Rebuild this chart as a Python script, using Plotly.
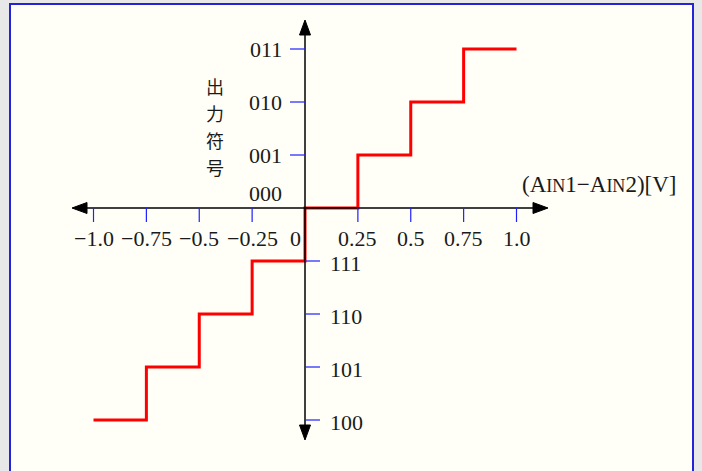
import plotly.graph_objects as go

# Input voltage breakpoints (V) and the output code held on each step
volts = [-1.0, -0.75, -0.5, -0.25, 0.0, 0.25, 0.5, 0.75, 1.0]
levels = [-4, -3, -2, -1, 0, 1, 2, 3, 3]

# Axis tick labels
x_tick_vals = [-1.0, -0.75, -0.5, -0.25, 0.25, 0.5, 0.75, 1.0]
x_tick_text = ["\u22121.0", "\u22120.75", "\u22120.5", "\u22120.25", "0.25", "0.5", "0.75", "1.0"]
code_levels = [3, 2, 1, 0, -1, -2, -3, -4]
code_text = ["011", "010", "001", "000", "111", "110", "101", "100"]
y_title_chars = ["出", "力", "符", "号"]

W, H = 702, 471
# pixel geometry of the drawing
ox, oy = 305, 208          # origin in pixels
px_per_volt = 211.5
px_per_level = 53.0

def vx(px):
    return (px - ox) / px_per_volt

def ly(py):
    return (oy - py) / px_per_level

xr = [vx(0), vx(W)]
yr = [ly(H), ly(0)]

SERIF = "Liberation Serif, DejaVu Serif, serif"
CJK = "Noto Sans CJK JP, sans-serif"
BLUE = "#1f1fff"
TXT = "#1a1a1a"
FS = 22

fig = go.Figure()

# step transfer curve
fig.add_trace(go.Scatter(
    x=volts, y=levels, mode="lines", line_shape="hv",
    line=dict(color="#ff0000", width=3), hoverinfo="skip", showlegend=False,
))

shapes = []
# panel background with blue frame
shapes.append(dict(type="rect", xref="paper", yref="paper",
                   x0=10 / W, x1=693 / W, y0=-0.05, y1=1 - 4 / H,
                   fillcolor="#fffff7", line=dict(color="#2323d8", width=2), layer="below"))

# horizontal and vertical axes with arrowheads
x_left, x_right = vx(72), vx(548)
y_top, y_bot = ly(20), ly(440)
shapes.append(dict(type="line", x0=x_left + 0.03, x1=x_right - 0.03, y0=0, y1=0,
                   line=dict(color="black", width=1.5)))
shapes.append(dict(type="line", x0=0, x1=0, y0=y_bot + 0.12, y1=y_top - 0.12,
                   line=dict(color="black", width=1.5)))
al_x, aw_y = 15 / px_per_volt, 5.5 / px_per_level
al_y, aw_x = 15 / px_per_level, 5.5 / px_per_volt
tri = lambda pts: "M " + " L ".join(f"{a},{b}" for a, b in pts) + " Z"
for pts in (
    [(x_right, 0), (x_right - al_x, aw_y), (x_right - al_x, -aw_y)],
    [(x_left, 0), (x_left + al_x, aw_y), (x_left + al_x, -aw_y)],
    [(0, y_top), (aw_x, y_top - al_y), (-aw_x, y_top - al_y)],
    [(0, y_bot), (aw_x, y_bot + al_y), (-aw_x, y_bot + al_y)],
):
    shapes.append(dict(type="path", path=tri(pts), fillcolor="black",
                       line=dict(color="black", width=1)))

# blue tick marks
tick_len_y = 14 / px_per_level
for v in x_tick_vals:
    shapes.append(dict(type="line", x0=v, x1=v, y0=0, y1=-tick_len_y,
                       line=dict(color=BLUE, width=1.2)))
tick_len_x = 15 / px_per_volt
for lv in code_levels:
    if lv == 0:
        continue
    x1 = -tick_len_x if lv > 0 else tick_len_x
    shapes.append(dict(type="line", x0=0, x1=x1, y0=lv, y1=lv,
                       line=dict(color=BLUE, width=1.2)))

annotations = []
for v, t in zip(x_tick_vals, x_tick_text):
    annotations.append(dict(x=v, y=ly(238), text=t, showarrow=False,
                            font=dict(family=SERIF, size=FS, color=TXT)))
annotations.append(dict(x=vx(295), y=ly(238), text="0", showarrow=False,
                        font=dict(family=SERIF, size=FS, color=TXT)))
for lv, t in zip(code_levels, code_text):
    if lv > 0:
        annotations.append(dict(x=vx(284), y=lv, text=t, showarrow=False, xanchor="right",
                                font=dict(family=SERIF, size=FS, color=TXT)))
    elif lv == 0:
        annotations.append(dict(x=vx(284), y=ly(193), text=t, showarrow=False, xanchor="right",
                                font=dict(family=SERIF, size=FS, color=TXT)))
    else:
        annotations.append(dict(x=vx(328), y=lv - 2 / px_per_level, text=t, showarrow=False,
                                xanchor="left", font=dict(family=SERIF, size=FS, color=TXT)))

# vertical axis title, one character per row
for i, ch in enumerate(y_title_chars):
    annotations.append(dict(x=vx(215), y=ly(86 + 27 * i), text=ch, showarrow=False,
                            borderpad=0, font=dict(family=CJK, size=18, color=TXT)))

annotations.append(dict(
    x=vx(678), y=ly(184), xanchor="right", showarrow=False,
    text="(A<span style='font-size:18px'>IN</span>1\u2212A<span style='font-size:18px'>IN</span>2)[V]",
    font=dict(family=SERIF, size=23, color=TXT)))

fig.update_layout(
    width=W, height=H, margin=dict(l=0, r=0, t=0, b=0),
    paper_bgcolor="#e8e8e8", plot_bgcolor="rgba(0,0,0,0)",
    xaxis=dict(range=xr, visible=False, fixedrange=True),
    yaxis=dict(range=yr, visible=False, fixedrange=True),
    shapes=shapes, annotations=annotations, showlegend=False,
)

fig.write_html("out.html")
